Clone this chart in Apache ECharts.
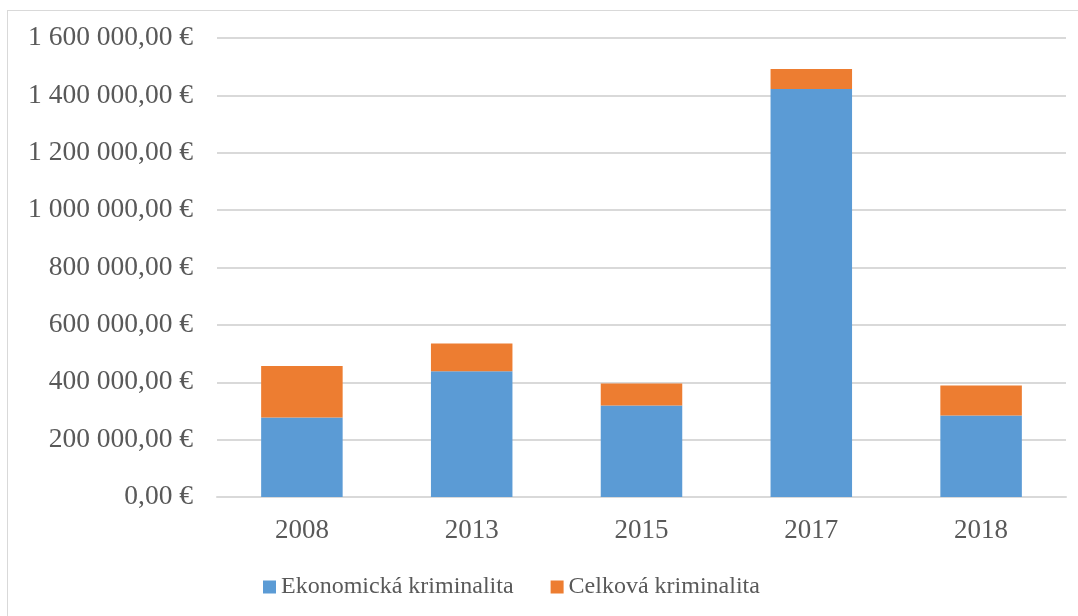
<!DOCTYPE html>
<html>
<head>
<meta charset="utf-8">
<script src="https://cdn.jsdelivr.net/npm/echarts@6/dist/echarts.min.js"></script>
<style>
  html, body { margin: 0; padding: 0; background: #fff; }
  #frame {
    position: absolute; left: 7px; top: 10px;
    width: 1200px; height: 800px;
    border: 1px solid #d9d9d9;
  }
  #chart { position: absolute; left: 0; top: 0; width: 1078px; height: 616px; }
</style>
</head>
<body>
<div id="frame"></div>
<div id="chart"></div>
<script>
// data
var years = ['2008', '2013', '2015', '2017', '2018'];
var ekonomicka = [277000, 438000, 319000, 1422000, 284000];
var celkova = [180000, 97000, 77000, 70000, 105000];
var yTicks = [0, 200000, 400000, 600000, 800000, 1000000, 1200000, 1400000, 1600000];

function fmtEuro(v) {
  var s = Math.round(v).toString();
  var out = '';
  while (s.length > 3) {
    out = ' ' + s.slice(-3) + out;
    s = s.slice(0, -3);
  }
  return s + out + ',00 €';
}

var chart = echarts.init(document.getElementById('chart'));
var font = '"Liberation Serif", "Times New Roman", serif';
var option = {
  animation: false,
  textStyle: { fontFamily: font },
  grid: { left: 217, right: 12, top: 38, bottom: 119 },
  legend: {
    bottom: 12,
    left: 258,
    itemWidth: 13,
    itemHeight: 13,
    itemGap: 37,
    icon: 'rect',
    textStyle: { fontFamily: font, fontSize: 24, color: '#595959' },
    data: ['Ekonomická kriminalita', 'Celková kriminalita']
  },
  xAxis: {
    type: 'category',
    data: years,
    axisLine: { lineStyle: { color: '#d9d9d9', width: 2 } },
    axisTick: { show: false },
    axisLabel: { fontFamily: font, fontSize: 27, color: '#595959', margin: 20 }
  },
  yAxis: {
    type: 'value',
    min: yTicks[0],
    max: yTicks[yTicks.length - 1],
    interval: yTicks[1] - yTicks[0],
    axisLine: { show: false },
    axisTick: { show: false },
    splitLine: { lineStyle: { color: '#d9d9d9', width: 2 } },
    axisLabel: {
      fontFamily: font, fontSize: 27.5, color: '#595959', margin: 24,
      formatter: fmtEuro
    }
  },
  series: [
    {
      name: 'Ekonomická kriminalita',
      type: 'bar',
      stack: 'total',
      barWidth: '48%',
      itemStyle: { color: '#5b9bd5' },
      data: ekonomicka
    },
    {
      name: 'Celková kriminalita',
      type: 'bar',
      stack: 'total',
      barWidth: '48%',
      itemStyle: { color: '#ed7d31' },
      data: celkova
    }
  ]
};
chart.setOption(option, true);
</script>
</body>
</html>
